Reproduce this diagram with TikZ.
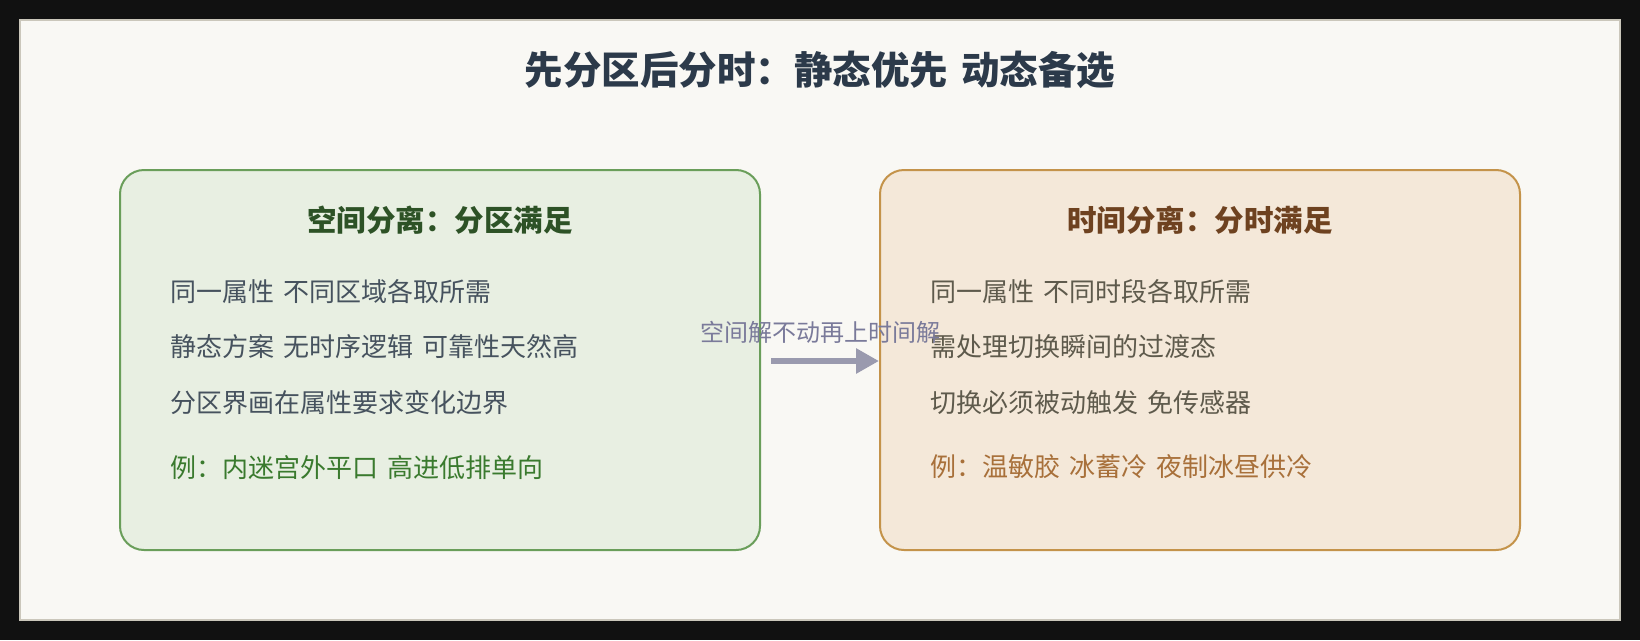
\documentclass[tikz,border=0pt]{standalone}
\usepackage{fontspec}
\setmainfont{Noto Sans CJK SC}
\usetikzlibrary{arrows.meta}
\definecolor{frame}{HTML}{111111}
\definecolor{panelbg}{HTML}{F9F8F4}
\definecolor{panelbd}{HTML}{CBC7BB}
\definecolor{gfill}{HTML}{E8EFE2}
\definecolor{gline}{HTML}{6A9E5A}
\definecolor{gtitle}{HTML}{2D5226}
\definecolor{gex}{HTML}{3A7A2E}
\definecolor{gbody}{HTML}{46525E}
\definecolor{ofill}{HTML}{F4E8D9}
\definecolor{oline}{HTML}{C4934A}
\definecolor{otitle}{HTML}{6E4220}
\definecolor{oex}{HTML}{A8703A}
\definecolor{obody}{HTML}{5E5A4C}
\definecolor{titlec}{HTML}{2C3A4A}
\definecolor{arrowc}{HTML}{9A9AAE}
\definecolor{arrowt}{HTML}{7A7A9A}
\tikzset{
  boxg/.style={draw=gline, fill=gfill, line width=2pt, rounded corners=24pt, minimum width=640pt, minimum height=380pt, inner sep=0pt},
  boxo/.style={draw=oline, fill=ofill, line width=2pt, rounded corners=24pt, minimum width=640pt, minimum height=380pt, inner sep=0pt},
  btitle/.style={font=\fontsize{29.5pt}{31pt}\selectfont\bfseries, inner sep=0pt},
  body/.style={font=\fontsize{26pt}{28pt}\selectfont, anchor=west, inner sep=0pt},
}
\newcommand{\gap}{\hspace{0.35em}}
\begin{document}
\begin{tikzpicture}[x=1pt,y=-1pt]
\fill[frame] (0,0) rectangle (1640,640);
\useasboundingbox (0,0) rectangle (1640,640);
\draw[panelbd, fill=panelbg, line width=2pt] (20,20) rectangle (1620,620);
\node[font=\fontsize{38.5pt}{40pt}\selectfont\bfseries, text=titlec, inner sep=0pt] (title) at (820,70) {先分区后分时：静态优先\gap 动态备选};
% left box
\node[boxg] (L) at (440,360) {};
\node[btitle, text=gtitle] (Lt) at (440,220) {空间分离：分区满足};
\node[body, text=gbody] (L1) at (170,292) {同一属性\gap 不同区域各取所需};
\node[body, text=gbody] (L2) at (170,347) {静态方案\gap 无时序逻辑\gap 可靠性天然高};
\node[body, text=gbody] (L3) at (170,403) {分区界画在属性要求变化边界};
\node[body, text=gex] (L4) at (170,468) {例：内迷宫外平口\gap 高进低排单向};
% right box
\node[boxo] (R) at (1200,360) {};
\node[btitle, text=otitle] (Rt) at (1200,220) {时间分离：分时满足};
\node[body, text=obody] (R1) at (930,292) {同一属性\gap 不同时段各取所需};
\node[body, text=obody] (R2) at (930,347) {需处理切换瞬间的过渡态};
\node[body, text=obody] (R3) at (930,403) {切换必须被动触发\gap 免传感器};
\node[body, text=oex] (R4) at (930,467) {例：温敏胶\gap 冰蓄冷\gap 夜制冰昼供冷};
% arrow
\coordinate (As) at ([xshift=10pt,yshift=-1pt]L.east);
\draw[arrowc, line width=6pt, -{Triangle[length=23pt,width=24pt]}] (As) -- ([yshift=-1pt]R.west);
\node[font=\fontsize{24pt}{26pt}\selectfont, text=arrowt, inner sep=0pt] (AL) at (820,332) {空间解不动再上时间解};
\end{tikzpicture}
\end{document}
